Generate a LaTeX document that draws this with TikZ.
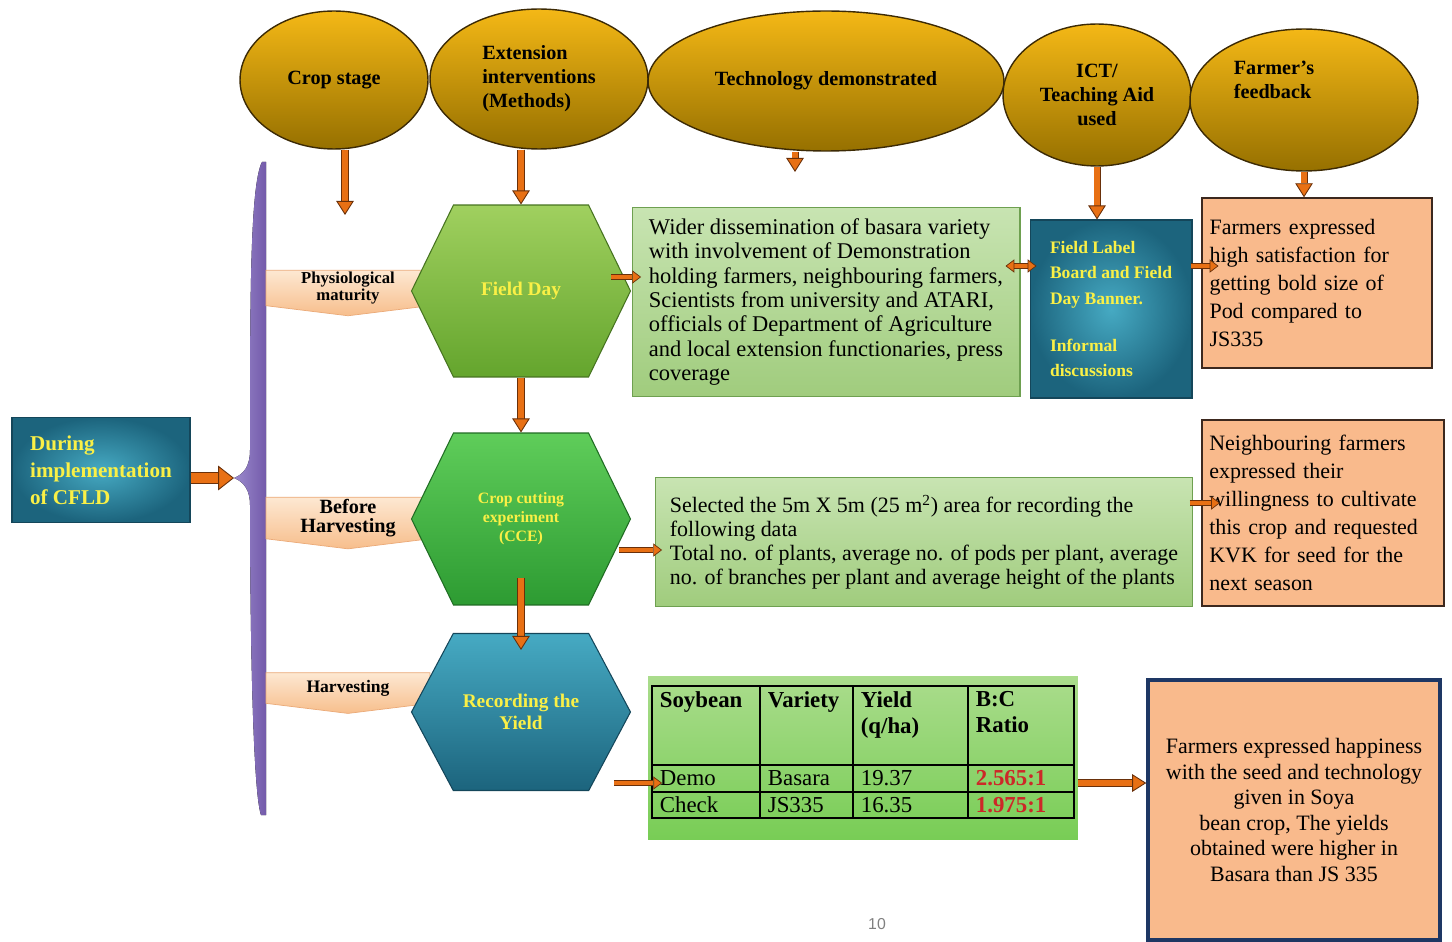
\documentclass[tikz,border=0pt]{standalone}
\usepackage{fontspec}
\setmainfont{Liberation Serif}
\setsansfont{Liberation Sans}
\usetikzlibrary{shapes.geometric,shapes.symbols,arrows.meta,calc}

\definecolor{headgold}{RGB}{244,184,22}
\definecolor{headdark}{RGB}{150,112,0}
\definecolor{headedge}{RGB}{60,42,5}
\definecolor{arroworange}{RGB}{232,112,20}
\definecolor{arrowedge}{RGB}{105,48,10}
\definecolor{barlight}{RGB}{155,138,205}
\definecolor{barpurple}{RGB}{115,90,170}
\definecolor{tabpeach}{RGB}{253,232,210}
\definecolor{tabdark}{RGB}{247,190,140}
\definecolor{tabedge}{RGB}{235,170,120}
\definecolor{leaflight}{RGB}{160,208,95}
\definecolor{leafdark}{RGB}{100,165,45}
\definecolor{ccelight}{RGB}{95,205,90}
\definecolor{ccedark}{RGB}{45,155,50}
\definecolor{teallight}{RGB}{70,170,195}
\definecolor{tealdark}{RGB}{28,100,125}
\definecolor{tealedge}{RGB}{20,70,90}
\definecolor{labelyellow}{RGB}{250,240,70}
\definecolor{notelight}{RGB}{200,228,178}
\definecolor{notegreen}{RGB}{160,204,125}
\definecolor{noteedge}{RGB}{110,160,80}
\definecolor{feedpeach}{RGB}{249,186,140}
\definecolor{feededge}{RGB}{60,40,30}
\definecolor{navyedge}{RGB}{30,55,100}
\definecolor{tablelight}{RGB}{170,220,140}
\definecolor{tablegreen}{RGB}{120,205,85}
\definecolor{ratiored}{RGB}{205,40,40}

\tikzset{
  head/.style={ellipse, draw=headedge, line width=0.8pt, top color=headgold, bottom color=headdark,
    inner sep=0pt, align=center, font=\bfseries\fontsize{11.5}{13.7}\selectfont},
  headtext/.style={align=left, font=\bfseries\fontsize{11.5}{13.7}\selectfont},
  tab/.style={signal, signal to=south, signal pointer angle=166, minimum width=3.28cm, minimum height=0.72cm,
    inner sep=1pt, top color=tabpeach, bottom color=tabdark, draw=tabedge, line width=0.4pt, align=center},
  hexa/.style={signal, signal to=east and west, minimum width=4.38cm, inner sep=0pt,
    line width=0.6pt, text=labelyellow, align=center},
  note/.style={rectangle, top color=notelight, bottom color=notegreen, draw=noteedge, line width=0.6pt,
    align=left, font=\fontsize{12.8}{13.9}\selectfont},
  tealbox/.style={rectangle, inner color=teallight, outer color=tealdark, draw=tealedge, line width=0.6pt,
    align=left, text=labelyellow},
  feedbox/.style={rectangle, fill=feedpeach, draw=feededge, line width=0.8pt, align=left,
    font=\fontsize{12.5}{16}\selectfont},
  cellhead/.style={anchor=north west, inner sep=2pt, align=left, font=\bfseries\fontsize{13}{14.8}\selectfont},
  cell/.style={anchor=west, inner sep=2pt, font=\fontsize{13}{14.8}\selectfont},
  flow/.style={draw=arrowedge, line width=0.5pt, double=arroworange, double distance=3pt,
    -{Triangle[length=8pt, width=10pt, fill=arroworange]}},
  smallflow/.style={draw=arrowedge, line width=0.4pt, double=arroworange, double distance=2.4pt,
    -{Triangle[length=5pt, width=7.5pt, fill=arroworange]}},
  bigflow/.style={draw=arrowedge, line width=0.5pt, double=arroworange, double distance=5.5pt,
    -{Triangle[length=9pt, width=14pt, fill=arroworange]}}
}

\begin{document}
\begin{tikzpicture}[x=0.02cm, y=-0.02cm]
\useasboundingbox (0,0) rectangle (1452,942);

% heading ellipses
\node[head, minimum width=3.76cm, minimum height=2.76cm] (crop) at (334,80) {Crop stage};
\node[head, minimum width=4.36cm, minimum height=2.8cm, align=left] (ext) at (539,79) {Extension\\interventions\\(Methods)};
\node[head, minimum width=7.12cm, minimum height=2.8cm] (tech) at (826,81) {Technology demonstrated};
\node[head, minimum width=3.76cm, minimum height=2.84cm] (ict) at (1097,95) {ICT/\\Teaching Aid\\used};
\node[head, minimum width=4.56cm, minimum height=2.84cm,
  label={[headtext, xshift=-0.6cm, yshift=0.4cm]center:{Farmer's\\feedback}}] (feed) at (1304,100) {};

% stage bar
\fill[left color=barlight, right color=barpurple] (266,162) -- (266,815) -- (261,815)
  .. controls (252,790) and (250,600) .. (250,505) .. controls (250,490) and (244,482) .. (234,478) coordinate (barpoint)
  .. controls (244,474) and (250,466) .. (250,450) .. controls (250,300) and (250,185) .. (262,162) -- cycle;

\node[tab, font=\bfseries\fontsize{9.5}{9.5}\selectfont] (physio) at (348,288) {Physiological\\maturity};
\node[tab, font=\bfseries\fontsize{11.5}{11}\selectfont] (before) at (348,518) {Before\\Harvesting};
\node[tab, font=\bfseries\fontsize{10}{10}\selectfont] (harvest) at (348,688) {Harvesting};

% methods
\node[hexa, signal pointer angle=128, minimum height=3.44cm, top color=leaflight, bottom color=leafdark, draw=leafdark!70!black,
  font=\bfseries\fontsize{11}{13}\selectfont] (fieldday) at (521,291) {Field Day};
\node[hexa, signal pointer angle=128, minimum height=3.44cm, top color=ccelight, bottom color=ccedark, draw=ccedark!70!black,
  font=\bfseries\fontsize{9}{10.8}\selectfont] (cce) at (521,519) {Crop cutting\\experiment\\(CCE)};
\node[hexa, signal pointer angle=124, minimum height=3.14cm, top color=teallight, bottom color=tealdark, draw=tealedge,
  font=\bfseries\fontsize{11}{12.5}\selectfont] (rec) at (521,712) {Recording the\\Yield};

\node[tealbox, minimum width=3.56cm, minimum height=2.1cm, font=\bfseries\fontsize{12}{15.4}\selectfont] (cfld) at (101,470)
  {During\\implementation\\of CFLD};

% technology and feedback
\node[note, minimum width=7.76cm, minimum height=3.78cm] (techone) at (826,302)
  {Wider dissemination of basara variety\\with involvement of Demonstration\\holding farmers, neighbouring farmers,\\Scientists from university and ATARI,\\officials of Department of Agriculture\\and local extension functionaries, press\\coverage};
\node[tealbox, minimum width=3.24cm, minimum height=3.56cm, font=\bfseries\fontsize{10}{14.5}\selectfont] (ictbox) at (1111,309)
  {Field Label\\Board and Field\\Day Banner.\\[12pt]Informal\\discussions};
\node[feedbox, minimum width=4.6cm, minimum height=3.4cm, text width=4.3cm] (feedone) at (1317,283)
  {Farmers expressed\\high satisfaction for\\getting bold size of\\Pod compared to\\JS335};

\node[note, minimum width=10.74cm, minimum height=2.58cm, font=\fontsize{12.5}{13.6}\selectfont] (techtwo) at (924,542)
  {Selected the 5m X 5m (25 m\textsuperscript{2}) area for recording the\\following data\\Total no. of plants, average no. of pods per plant, average\\no. of branches per plant and average height of the plants};
\node[feedbox, minimum width=4.84cm, minimum height=3.72cm, text width=4.55cm] (feedtwo) at (1323,513)
  {Neighbouring farmers\\expressed their\\willingness to cultivate\\this crop and requested\\KVK for seed for the\\next season};

\node[rectangle, top color=tablelight, bottom color=tablegreen, minimum width=8.6cm, minimum height=3.26cm] (tablebg) at (863,758) {};
\draw[line width=1.2pt] (652,686) rectangle (1074,818);
\foreach \cx in {760,853,968} \draw[line width=1.2pt] (\cx,686) -- (\cx,818);
\foreach \ry in {765,792} \draw[line width=1.2pt] (652,\ry) -- (1074,\ry);
\node[cellhead] (hsoy) at (656,688) {Soybean};
\node[cellhead] (hvar) at (764,688) {Variety};
\node[cellhead] (hyield) at (857,688) {Yield\\(q/ha)};
\node[cellhead] (hratio) at (972,688) {B:C\\Ratio};
\node[cell] (demo) at (656,778) {Demo};
\node[cell] (demovar) at (764,778) {Basara};
\node[cell] (demoyield) at (857,778) {19.37};
\node[cell, text=ratiored, font=\bfseries\fontsize{13}{14.8}\selectfont] (demoratio) at (972,778) {2.565:1};
\node[cell] (check) at (656,805) {Check};
\node[cell] (checkvar) at (764,805) {JS335};
\node[cell] (checkyield) at (857,805) {16.35};
\node[cell, text=ratiored, font=\bfseries\fontsize{13}{14.8}\selectfont] (checkratio) at (972,805) {1.975:1};

\node[feedbox, draw=navyedge, line width=2pt, minimum width=5.84cm, minimum height=5.2cm, align=center,
  font=\fontsize{12.5}{14.5}\selectfont] (feedthree) at (1294,810)
  {Farmers expressed happiness\\with the seed and technology\\given in Soya\\bean crop, The yields\\obtained were higher in\\Basara than JS 335};

% arrows
\coordinate (cropend) at (345,215);
\coordinate (techend) at (795,172);
\draw[flow] (crop.south -| cropend) -- (cropend);
\draw[flow] (ext.south -| fieldday.north) -- (fieldday.north);
\draw[flow] (tech.south -| techend) -- (techend);
\draw[flow] (ict.south) -- (ict.south |- ictbox.north);
\draw[flow] (feed.south) -- (feed.south |- feedone.north);
\draw[flow] (fieldday.south) -- (cce.north);
\draw[flow] ($(cce.south)+(0,-28)$) -- ($(rec.north)+(0,17)$);
\draw[bigflow] (cfld.east |- barpoint) -- (barpoint);

\draw[smallflow] ($(fieldday.east)+(-20,-14)$) -- +(30,0);
\draw[smallflow, {Triangle[length=5pt, width=7.5pt, fill=arroworange]}-{Triangle[length=5pt, width=7.5pt, fill=arroworange]}]
  ($(techone.east)+(-15,-36)$) -- +(31,0);
\draw[smallflow] ($(ictbox.east)+(-2,-43)$) -- +(28,0);
\draw[smallflow] ($(cce.east)+(-12,31)$) -- +(43,0);
\draw[smallflow] ($(techtwo.east)+(-3,-39)$) -- +(30,0);
\draw[smallflow] ($(rec.east)+(-17,71)$) -- +(48,0);
\draw[flow] ($(tablebg.east)+(0,25)$) coordinate (tabout) -- (tabout -| feedthree.west);

\node[text=gray, font=\sffamily\fontsize{9}{10}\selectfont] (pagenum) at (877,924) {10};
\end{tikzpicture}
\end{document}
